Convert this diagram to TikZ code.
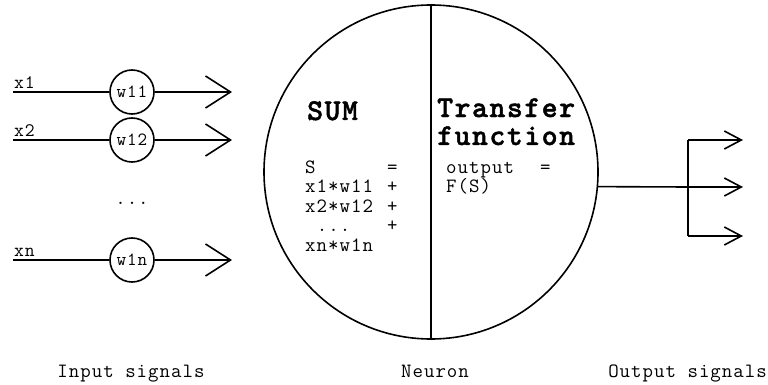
\documentclass[tikz,border=0pt]{standalone}
\usepackage{fontspec}
\usetikzlibrary{arrows.meta}
% typewriter faces with slight tracking, as in a Courier-style setting
\newfontfamily\mono[LetterSpace=5]{Latin Modern Mono}
\newfontfamily\monobold[LetterSpace=5,FakeBold=1.5]{lmmonolt10-bold.otf}

\tikzset{
  wire/.style={line width=1.6pt},
  bigarrow/.style={wire,-{Straight Barb[length=25pt,width=32pt]}},
  smallarrow/.style={wire,-{Straight Barb[length=17pt,width=18pt]}},
  weight/.style={circle,draw,line width=1.6pt,fill=white,minimum size=44pt,inner sep=0pt,font=\mono\fontsize{18.6}{18.6}\selectfont},
  inlabel/.style={anchor=base west,inner sep=0pt,font=\mono\fontsize{19.1}{19.1}\selectfont},
  caption/.style={anchor=base,inner sep=0pt,font=\mono\fontsize{20.3}{19.5}\selectfont},
  title/.style={anchor=base west,inner sep=0pt,align=left,font=\monobold\fontsize{30.3}{28}\selectfont},
  formula/.style={anchor=base west,inner sep=0pt,align=left,font=\mono\fontsize{20.3}{19.5}\selectfont},
}

\begin{document}
\begin{tikzpicture}[x=1pt,y=-1pt]
\useasboundingbox (0,0) rectangle (768,385);

% the neuron body, split into summation and transfer halves
\node[circle,draw,line width=1.6pt,minimum size=334pt,inner sep=0pt] (neuron) at (431,172) {};
\draw[wire] (neuron.north) -- (neuron.south);

% (a multi-line node sits on the baseline of its last line)
\node[title] (sum) at (307,120) {SUM};
\node[title] (transfer) at (437,145) {Transfer\\function};
\node[formula] (sumterms) at (305,251) {S\\x1*w11\\x2*w12\\\hspace{11.7pt}...\\xn*w1n};
\node[formula] (sumops) at (387,231.5) {=\\+\\+\\+};
\node[formula] (outterms) at (446,192.5) {output\\F(S)};
\node[formula] (outops) at (540,173) {=};

% weighted inputs
\foreach \i/\lab/\w/\y in {1/x1/w11/92, 2/x2/w12/140, n/xn/w1n/260}{
  \coordinate (s\i) at (13,\y);
  \coordinate (e\i) at (232,\y);
  \node[weight] (w\i) at (132,\y) {\w};
  \node[inlabel] (l\i) at (14,\y-3.5) {\lab};
  \draw[wire] (s\i) -- (w\i);
  \draw[bigarrow] (w\i) -- (e\i);
}
\node[caption] (dots) at (132,204) {...};

% output fan-out
\coordinate (split) at (688,187);
\coordinate (otop) at (688,140);
\coordinate (obot) at (688,236);
\coordinate (o1) at (743,140);
\coordinate (o2) at (743,187);
\coordinate (o3) at (743,236);
\draw[wire] (neuron.-5.15) -- (split);
\draw[wire] (otop) -- (obot);
\draw[smallarrow] (otop) -- (o1);
\draw[smallarrow] (split) -- (o2);
\draw[smallarrow] (obot) -- (o3);

% captions
\node[caption] (capin) at (131,377) {Input signals};
\node[caption] (capneuron) at (435,377) {Neuron};
\node[caption,anchor=base east] (capout) at (767,377) {Output signals};
\end{tikzpicture}
\end{document}
